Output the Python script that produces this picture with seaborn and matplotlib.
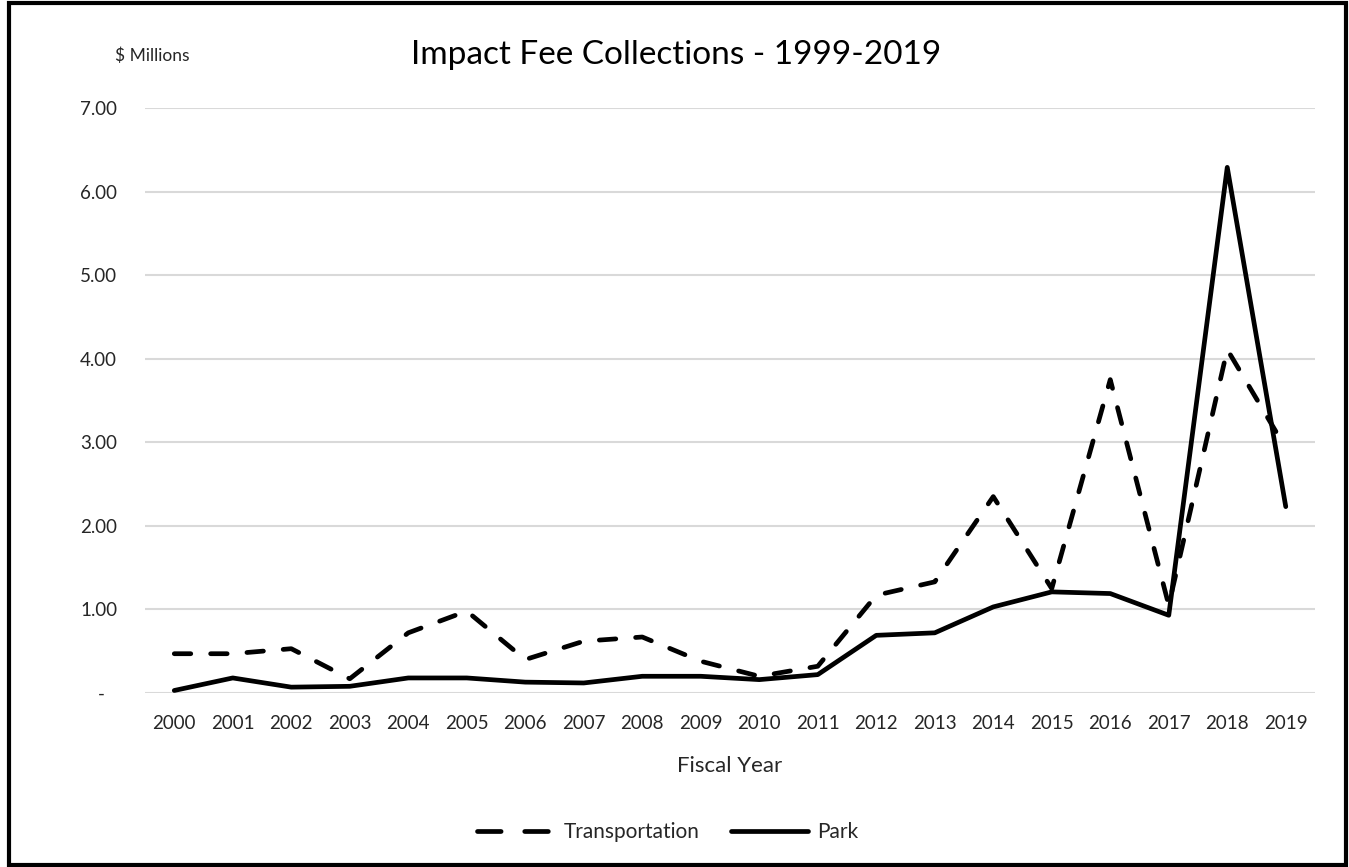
"""
Impact fee collections by fiscal year, Transportation vs Park.
"""
import pandas as pd
import matplotlib.pyplot as plt
import matplotlib.patches as mpatches
import matplotlib.transforms as mtransforms
import seaborn as sns

years = list(range(2000, 2020))
transportation = [0.47, 0.47, 0.53, 0.17, 0.72, 0.98, 0.40, 0.62, 0.67, 0.38,
                  0.20, 0.32, 1.17, 1.33, 2.35, 1.25, 3.75, 1.05, 4.11, 2.93]
park = [0.03, 0.18, 0.07, 0.08, 0.18, 0.18, 0.13, 0.12, 0.20, 0.20,
        0.16, 0.22, 0.69, 0.72, 1.03, 1.21, 1.19, 0.93, 6.29, 2.23]
series_names = ["Transportation", "Park"]
y_ticks = [0, 1, 2, 3, 4, 5, 6, 7]
y_tick_labels = ["-", "1.00", "2.00", "3.00", "4.00", "5.00", "6.00", "7.00"]

df = pd.DataFrame({
    "Fiscal Year": years * 2,
    "Value": transportation + park,
    "Series": [series_names[0]] * len(years) + [series_names[1]] * len(years),
})

sns.set_style("white")
plt.rcParams['font.family'] = ['Lato', 'DejaVu Sans']
text_color = "#262626"

fig = plt.figure(figsize=(13.49, 8.67), dpi=100)
ax = fig.add_axes([0.1075, 0.2007, 0.8673, 0.6747])

sns.lineplot(data=df, x="Fiscal Year", y="Value", hue="Series", style="Series",
             palette={"Transportation": "black", "Park": "black"},
             dashes={"Transportation": (3.5, 4.2), "Park": ""},
             linewidth=3.4, ax=ax, legend=False)
for line in ax.get_lines():
    line.set_dash_capstyle("round")
    line.set_solid_capstyle("round")

ax.set_xlim(1999.5, 2019.5)
ax.set_ylim(0, 7)
ax.set_xticks(years)
ax.set_xticklabels([str(y) for y in years], fontsize=13.5, color=text_color)
ax.set_yticks(y_ticks)
ax.set_yticklabels(y_tick_labels, fontsize=13.5, color=text_color)
ax.tick_params(axis='x', length=0, pad=16)
ax.tick_params(axis='y', length=0, pad=20)
# accounting-style zero: dash sits under the decimal point
zero_label = ax.get_yticklabels()[0]
zero_label.set_transform(zero_label.get_transform() +
                         mtransforms.ScaledTranslation(-0.12, 0, fig.dpi_scale_trans))
ax.grid(axis='y', color="#d9d9d9", linewidth=1.5)
ax.set_axisbelow(True)
for s in ax.spines.values():
    s.set_visible(False)
ax.set_xlabel("Fiscal Year", fontsize=16, color=text_color, labelpad=17)
ax.set_ylabel("")

fig.text(0.5015, 0.937, "Impact Fee Collections - 1999-2019", ha='center', va='center',
         fontsize=24, color="black")
fig.text(0.085, 0.936, "$ Millions", ha='left', va='center', fontsize=12.5, color=text_color)

handles = [
    plt.Line2D([], [], color="black", lw=3.4, dashes=(5.0, 5.0), dash_capstyle="round"),
    plt.Line2D([], [], color="black", lw=3.4, solid_capstyle="round"),
]
fig.legend(handles, series_names, loc='center', bbox_to_anchor=(0.495, 0.04), ncol=2,
           frameon=False, fontsize=15, handlelength=3.7, columnspacing=1.5,
           handletextpad=0.45, labelcolor=text_color)

# outer frame
fig.patches.append(mpatches.Rectangle((0.0065, 0.002), 0.9915, 0.994, transform=fig.transFigure,
                                      fill=False, edgecolor="black", linewidth=3))

plt.savefig("out.png", dpi=100)
